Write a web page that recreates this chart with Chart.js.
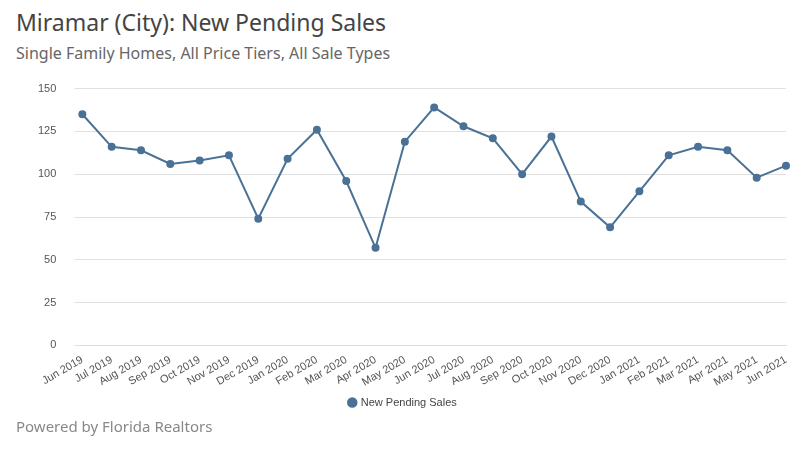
<!DOCTYPE html>
<html lang="en">
<head>
<meta charset="UTF-8">
<script src="https://cdn.jsdelivr.net/npm/chart.js"></script>
<style>
body{margin:0;width:800px;height:450px;background:#fff;font-family:'Noto Sans',Arial,sans-serif;overflow:hidden;position:relative;}
h1{position:absolute;left:16px;top:6px;margin:0;font-size:23px;font-weight:400;color:#444;}
h2{position:absolute;left:16px;top:42px;margin:0;font-size:16px;font-weight:400;color:#666;}
.foot{position:absolute;left:16px;top:416px;font-size:15px;color:#888;}
#wrap{position:absolute;left:0;top:64px;width:800px;height:354px;}
</style>
</head>
<body>
<h1>Miramar (City): New Pending Sales</h1>
<h2>Single Family Homes, All Price Tiers, All Sale Types</h2>
<div id="wrap"><canvas id="c"></canvas></div>
<div class="foot">Powered by Florida Realtors</div>
<script>
const months=["Jun 2019","Jul 2019","Aug 2019","Sep 2019","Oct 2019","Nov 2019","Dec 2019","Jan 2020","Feb 2020","Mar 2020","Apr 2020","May 2020","Jun 2020","Jul 2020","Aug 2020","Sep 2020","Oct 2020","Nov 2020","Dec 2020","Jan 2021","Feb 2021","Mar 2021","Apr 2021","May 2021","Jun 2021"];
const pendingSales=[135,116,114,106,108,111,74,109,126,96,57,119,139,128,121,100,122,84,69,90,111,116,114,98,105];
const yTicks=[0,25,50,75,100,125,150];

new Chart(document.getElementById('c'),{
  type:'line',
  data:{labels:months,datasets:[{label:'New Pending Sales',data:pendingSales,borderColor:'#4a7196',backgroundColor:'#4a7196',borderWidth:2,pointRadius:3,tension:0,fill:false}]},
  options:{
    responsive:true,maintainAspectRatio:false,animation:false,
    layout:{padding:{left:20,right:14,top:0}},
    plugins:{legend:{position:'bottom',labels:{usePointStyle:true,pointStyle:'circle',boxWidth:6,boxHeight:6,color:'#444',font:{size:11},padding:8}},tooltip:{enabled:false}},
    scales:{
      x:{grid:{display:false},border:{color:'#ddd'},ticks:{color:'#555',font:{size:11},maxRotation:30,minRotation:30,autoSkip:false,padding:0}},
      y:{min:0,max:150,afterBuildTicks:a=>{a.ticks=yTicks.map(v=>({value:v}));},grid:{color:'#e0e0e0'},border:{display:false},ticks:{color:'#555',font:{size:11},padding:18}}
    }
  }
});
</script>
</body>
</html>
